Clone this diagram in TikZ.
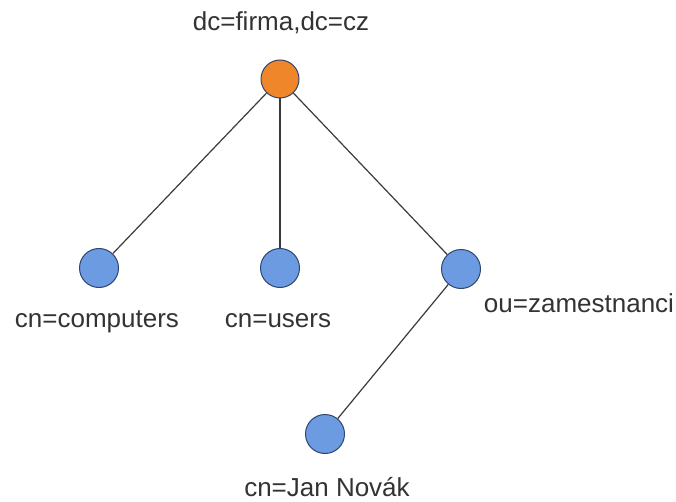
\documentclass[tikz,border=0pt]{standalone}
\usepackage{fontspec}
\setmainfont{Liberation Sans}
\definecolor{rootfill}{HTML}{F0862A}
\definecolor{nodefill}{HTML}{6C9BE2}
\definecolor{nodeedge}{HTML}{2E4670}
\definecolor{edgecol}{HTML}{3A3A3A}
\tikzset{
  entry/.style={circle, draw=nodeedge, line width=1pt, fill=nodefill, minimum size=39pt, inner sep=0pt},
  rootentry/.style={entry, fill=rootfill, minimum size=38pt},
  lbl/.style={font=\fontsize{26pt}{31pt}\selectfont, text=black!80, inner sep=0pt, anchor=base},
  link/.style={draw=edgecol, line width=1.2pt}
}
\begin{document}
\begin{tikzpicture}[x=1pt,y=-1pt]
\useasboundingbox (0,0) rectangle (676,502);
\node[rootentry] (root) at (280,79) {};
\node[entry] (comp) at (99,268) {};
\node[entry] (users) at (280,268) {};
\node[entry] (ou) at (461,269) {};
\node[entry] (jan) at (325,434) {};
\draw[link] (root) -- (comp);
\draw[link] (root) -- (users);
\draw[link] (root) -- (ou);
\draw[link] (ou) -- (jan);
\node[lbl] (lroot) at (281,31) {dc=firma,dc=cz};
\node[lbl] (lcomp) at (97,327) {cn=computers};
\node[lbl] (lusers) at (278,327) {cn=users};
\node[lbl] (lou) at (579,312) {ou=zamestnanci};
\node[lbl] (ljan) at (327,496) {cn=Jan Novák};
\end{tikzpicture}
\end{document}
